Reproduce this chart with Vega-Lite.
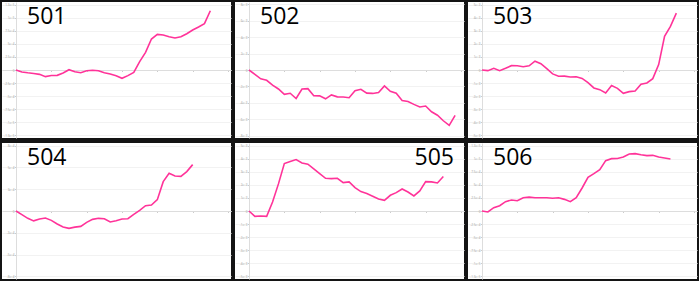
{
  "$schema": "https://vega.github.io/schema/vega-lite/v6.json",
  "background": "#141414",
  "padding": {"left": 2, "top": 2, "right": 2, "bottom": 2},
  "columns": 3,
  "spacing": {"row": 5, "column": 4},
  "bounds": "flush",
  "config": {
    "view": {"fill": "white", "stroke": null},
    "axis": {"labelFontSize": 3, "labelColor": "#9a9a9a", "tickColor": "#cccccc", "domainColor": "#dddddd", "gridColor": "#f2f2f2", "labelFont": "Open Sans", "tickSize": 1.5, "labelPadding": 0.5},
    "title": {"font": "Open Sans", "fontSize": 23, "fontWeight": "normal", "color": "#000000", "offset": -27}
  },
  "data": {"values": [
    {"p":501,"i":0,"v":0},{"p":501,"i":1,"v":-3800},{"p":501,"i":2,"v":-5400},{"p":501,"i":3,"v":-6700},{"p":501,"i":4,"v":-8300},{"p":501,"i":5,"v":-12700},{"p":501,"i":6,"v":-10500},{"p":501,"i":7,"v":-10200},{"p":501,"i":8,"v":-5700},{"p":501,"i":9,"v":600},{"p":501,"i":10,"v":-3200},{"p":501,"i":11,"v":-5100},{"p":501,"i":12,"v":-1300},{"p":501,"i":13,"v":-600},{"p":501,"i":14,"v":-1300},{"p":501,"i":15,"v":-5400},{"p":501,"i":16,"v":-7600},{"p":501,"i":17,"v":-10800},{"p":501,"i":18,"v":-15900},{"p":501,"i":19,"v":-10800},{"p":501,"i":20,"v":-4500},{"p":501,"i":21,"v":15900},{"p":501,"i":22,"v":33700},{"p":501,"i":23,"v":59100},{"p":501,"i":24,"v":68000},{"p":501,"i":25,"v":66800},{"p":501,"i":26,"v":63600},{"p":501,"i":27,"v":61000},{"p":501,"i":28,"v":63600},{"p":501,"i":29,"v":69300},{"p":501,"i":30,"v":76300},{"p":501,"i":31,"v":82000},{"p":501,"i":32,"v":88400},{"p":501,"i":33,"v":113000},
    {"p":502,"i":0,"v":0},{"p":502,"i":1,"v":-530},{"p":502,"i":2,"v":-1080},{"p":502,"i":3,"v":-1260},{"p":502,"i":4,"v":-1840},{"p":502,"i":5,"v":-2320},{"p":502,"i":6,"v":-2980},{"p":502,"i":7,"v":-2840},{"p":502,"i":8,"v":-3480},{"p":502,"i":9,"v":-2320},{"p":502,"i":10,"v":-2280},{"p":502,"i":11,"v":-3140},{"p":502,"i":12,"v":-3160},{"p":502,"i":13,"v":-3520},{"p":502,"i":14,"v":-3040},{"p":502,"i":15,"v":-3280},{"p":502,"i":16,"v":-3300},{"p":502,"i":17,"v":-3380},{"p":502,"i":18,"v":-2520},{"p":502,"i":19,"v":-2360},{"p":502,"i":20,"v":-2820},{"p":502,"i":21,"v":-2860},{"p":502,"i":22,"v":-2740},{"p":502,"i":23,"v":-1940},{"p":502,"i":24,"v":-2600},{"p":502,"i":25,"v":-2840},{"p":502,"i":26,"v":-3720},{"p":502,"i":27,"v":-3840},{"p":502,"i":28,"v":-4200},{"p":502,"i":29,"v":-4520},{"p":502,"i":30,"v":-4400},{"p":502,"i":31,"v":-5100},{"p":502,"i":32,"v":-5520},{"p":502,"i":33,"v":-6200},{"p":502,"i":34,"v":-6760},{"p":502,"i":35,"v":-5540},
    {"p":503,"i":0,"v":0},{"p":503,"i":1,"v":-50},{"p":503,"i":2,"v":130},{"p":503,"i":3,"v":-50},{"p":503,"i":4,"v":130},{"p":503,"i":5,"v":330},{"p":503,"i":6,"v":320},{"p":503,"i":7,"v":250},{"p":503,"i":8,"v":320},{"p":503,"i":9,"v":670},{"p":503,"i":10,"v":480},{"p":503,"i":11,"v":100},{"p":503,"i":12,"v":-300},{"p":503,"i":13,"v":-480},{"p":503,"i":14,"v":-470},{"p":503,"i":15,"v":-530},{"p":503,"i":16,"v":-510},{"p":503,"i":17,"v":-640},{"p":503,"i":18,"v":-970},{"p":503,"i":19,"v":-1370},{"p":503,"i":20,"v":-1500},{"p":503,"i":21,"v":-1750},{"p":503,"i":22,"v":-1190},{"p":503,"i":23,"v":-1400},{"p":503,"i":24,"v":-1780},{"p":503,"i":25,"v":-1650},{"p":503,"i":26,"v":-1600},{"p":503,"i":27,"v":-1090},{"p":503,"i":28,"v":-990},{"p":503,"i":29,"v":-660},{"p":503,"i":30,"v":410},{"p":503,"i":31,"v":2570},{"p":503,"i":32,"v":3330},{"p":503,"i":33,"v":4340},
    {"p":504,"i":0,"v":0},{"p":504,"i":1,"v":-4200},{"p":504,"i":2,"v":-8400},{"p":504,"i":3,"v":-11300},{"p":504,"i":4,"v":-9200},{"p":504,"i":5,"v":-8000},{"p":504,"i":6,"v":-10700},{"p":504,"i":7,"v":-14900},{"p":504,"i":8,"v":-18300},{"p":504,"i":9,"v":-19900},{"p":504,"i":10,"v":-18500},{"p":504,"i":11,"v":-17600},{"p":504,"i":12,"v":-13000},{"p":504,"i":13,"v":-9600},{"p":504,"i":14,"v":-8400},{"p":504,"i":15,"v":-8800},{"p":504,"i":16,"v":-12600},{"p":504,"i":17,"v":-11100},{"p":504,"i":18,"v":-9200},{"p":504,"i":19,"v":-8800},{"p":504,"i":20,"v":-3800},{"p":504,"i":21,"v":800},{"p":504,"i":22,"v":6100},{"p":504,"i":23,"v":6900},{"p":504,"i":24,"v":13000},{"p":504,"i":25,"v":33600},{"p":504,"i":26,"v":43200},{"p":504,"i":27,"v":40100},{"p":504,"i":28,"v":39700},{"p":504,"i":29,"v":45100},{"p":504,"i":30,"v":53100},
    {"p":505,"i":0,"v":0},{"p":505,"i":1,"v":-410},{"p":505,"i":2,"v":-380},{"p":505,"i":3,"v":-410},{"p":505,"i":4,"v":690},{"p":505,"i":5,"v":2070},{"p":505,"i":6,"v":3620},{"p":505,"i":7,"v":3770},{"p":505,"i":8,"v":3930},{"p":505,"i":9,"v":3670},{"p":505,"i":10,"v":3570},{"p":505,"i":11,"v":3210},{"p":505,"i":12,"v":2860},{"p":505,"i":13,"v":2500},{"p":505,"i":14,"v":2470},{"p":505,"i":15,"v":2500},{"p":505,"i":16,"v":2170},{"p":505,"i":17,"v":2220},{"p":505,"i":18,"v":1790},{"p":505,"i":19,"v":1480},{"p":505,"i":20,"v":1330},{"p":505,"i":21,"v":1120},{"p":505,"i":22,"v":920},{"p":505,"i":23,"v":820},{"p":505,"i":24,"v":1200},{"p":505,"i":25,"v":1400},{"p":505,"i":26,"v":1680},{"p":505,"i":27,"v":1450},{"p":505,"i":28,"v":1150},{"p":505,"i":29,"v":1530},{"p":505,"i":30,"v":2240},{"p":505,"i":31,"v":2220},{"p":505,"i":32,"v":2140},{"p":505,"i":33,"v":2630},
    {"p":506,"i":0,"v":0},{"p":506,"i":1,"v":-1900},{"p":506,"i":2,"v":6300},{"p":506,"i":3,"v":10200},{"p":506,"i":4,"v":17800},{"p":506,"i":5,"v":21000},{"p":506,"i":6,"v":19700},{"p":506,"i":7,"v":25400},{"p":506,"i":8,"v":26400},{"p":506,"i":9,"v":25400},{"p":506,"i":10,"v":25400},{"p":506,"i":11,"v":25400},{"p":506,"i":12,"v":24200},{"p":506,"i":13,"v":25400},{"p":506,"i":14,"v":22200},{"p":506,"i":15,"v":17800},{"p":506,"i":16,"v":25400},{"p":506,"i":17,"v":43900},{"p":506,"i":18,"v":64200},{"p":506,"i":19,"v":71300},{"p":506,"i":20,"v":78900},{"p":506,"i":21,"v":96100},{"p":506,"i":22,"v":99900},{"p":506,"i":23,"v":100200},{"p":506,"i":24,"v":103000},{"p":506,"i":25,"v":108800},{"p":506,"i":26,"v":109400},{"p":506,"i":27,"v":107200},{"p":506,"i":28,"v":105600},{"p":506,"i":29,"v":106200},{"p":506,"i":30,"v":103000},{"p":506,"i":31,"v":101100},{"p":506,"i":32,"v":99200}
  ]},
  "concat": [
      {"width": 229, "height": 136, "title": {"text": "501", "anchor": "start", "dx": 25},
       "transform": [{"filter": "datum.p == 501"}],
       "mark": {"type": "line", "color": "#ff3399", "strokeWidth": 1.6},
       "encoding": {
         "x": {"field": "i", "type": "quantitative", "title": null, "scale": {"domain": [-2.377, 36.509], "nice": false, "zero": false}, "axis": {"values": [0,6,12,18,24,30,36], "labels": false, "grid": false, "offset": -68}},
         "y": {"field": "v", "type": "quantitative", "title": null, "scale": {"domain": [-129771, 129771], "nice": false}, "axis": {"values": [-125000,-100000,-75000,-50000,-25000,0,25000,50000,75000,100000,125000], "format": ",", "labelExpr": "replace(datum.label, '\u2212', '-')", "offset": -14}}}},
      {"width": 229, "height": 136, "title": {"text": "502", "anchor": "start", "dx": 25},
       "transform": [{"filter": "datum.p == 502"}],
       "mark": {"type": "line", "color": "#ff3399", "strokeWidth": 1.6},
       "encoding": {
         "x": {"field": "i", "type": "quantitative", "title": null, "scale": {"domain": [-2.377, 36.509], "nice": false, "zero": false}, "axis": {"values": [0,6,12,18,24,30,36], "labels": false, "grid": false, "offset": -68}},
         "y": {"field": "v", "type": "quantitative", "title": null, "scale": {"domain": [-8305, 8305], "nice": false}, "axis": {"values": [-8000,-6000,-4000,-2000,0,2000,4000,6000,8000], "format": ",", "labelExpr": "replace(datum.label, '\u2212', '-')", "offset": -14}}}},
      {"width": 229, "height": 136, "title": {"text": "503", "anchor": "start", "dx": 25},
       "transform": [{"filter": "datum.p == 503"}],
       "mark": {"type": "line", "color": "#ff3399", "strokeWidth": 1.6},
       "encoding": {
         "x": {"field": "i", "type": "quantitative", "title": null, "scale": {"domain": [-2.377, 36.509], "nice": false, "zero": false}, "axis": {"values": [0,6,12,18,24,30,36], "labels": false, "grid": false, "offset": -68}},
         "y": {"field": "v", "type": "quantitative", "title": null, "scale": {"domain": [-5191, 5191], "nice": false}, "axis": {"values": [-5000,-4000,-3000,-2000,-1000,0,1000,2000,3000,4000,5000], "format": ",", "labelExpr": "replace(datum.label, '\u2212', '-')", "offset": -14}}}},
      {"width": 229, "height": 136, "title": {"text": "504", "anchor": "start", "dx": 25},
       "transform": [{"filter": "datum.p == 504"}],
       "mark": {"type": "line", "color": "#ff3399", "strokeWidth": 1.6},
       "encoding": {
         "x": {"field": "i", "type": "quantitative", "title": null, "scale": {"domain": [-2.377, 36.509], "nice": false, "zero": false}, "axis": {"values": [0,6,12,18,24,30,36], "labels": false, "grid": false, "offset": -68}},
         "y": {"field": "v", "type": "quantitative", "title": null, "scale": {"domain": [-77863, 77863], "nice": false}, "axis": {"values": [-75000,-50000,-25000,0,25000,50000,75000], "format": ",", "labelExpr": "replace(datum.label, '\u2212', '-')", "offset": -14}}}},
      {"width": 229, "height": 136, "title": {"text": "505", "anchor": "end", "dx": -10},
       "transform": [{"filter": "datum.p == 505"}],
       "mark": {"type": "line", "color": "#ff3399", "strokeWidth": 1.6},
       "encoding": {
         "x": {"field": "i", "type": "quantitative", "title": null, "scale": {"domain": [-2.377, 36.509], "nice": false, "zero": false}, "axis": {"values": [0,6,12,18,24,30,36], "labels": false, "grid": false, "offset": -68}},
         "y": {"field": "v", "type": "quantitative", "title": null, "scale": {"domain": [-5191, 5191], "nice": false}, "axis": {"values": [-5000,-4000,-3000,-2000,-1000,0,1000,2000,3000,4000,5000], "format": ",", "labelExpr": "replace(datum.label, '\u2212', '-')", "offset": -14}}}},
      {"width": 229, "height": 136, "title": {"text": "506", "anchor": "start", "dx": 25},
       "transform": [{"filter": "datum.p == 506"}],
       "mark": {"type": "line", "color": "#ff3399", "strokeWidth": 1.6},
       "encoding": {
         "x": {"field": "i", "type": "quantitative", "title": null, "scale": {"domain": [-2.377, 36.509], "nice": false, "zero": false}, "axis": {"values": [0,6,12,18,24,30,36], "labels": false, "grid": false, "offset": -68}},
         "y": {"field": "v", "type": "quantitative", "title": null, "scale": {"domain": [-129771, 129771], "nice": false}, "axis": {"values": [-125000,-100000,-75000,-50000,-25000,0,25000,50000,75000,100000,125000], "format": ",", "labelExpr": "replace(datum.label, '\u2212', '-')", "offset": -14}}}}
  ]
}
